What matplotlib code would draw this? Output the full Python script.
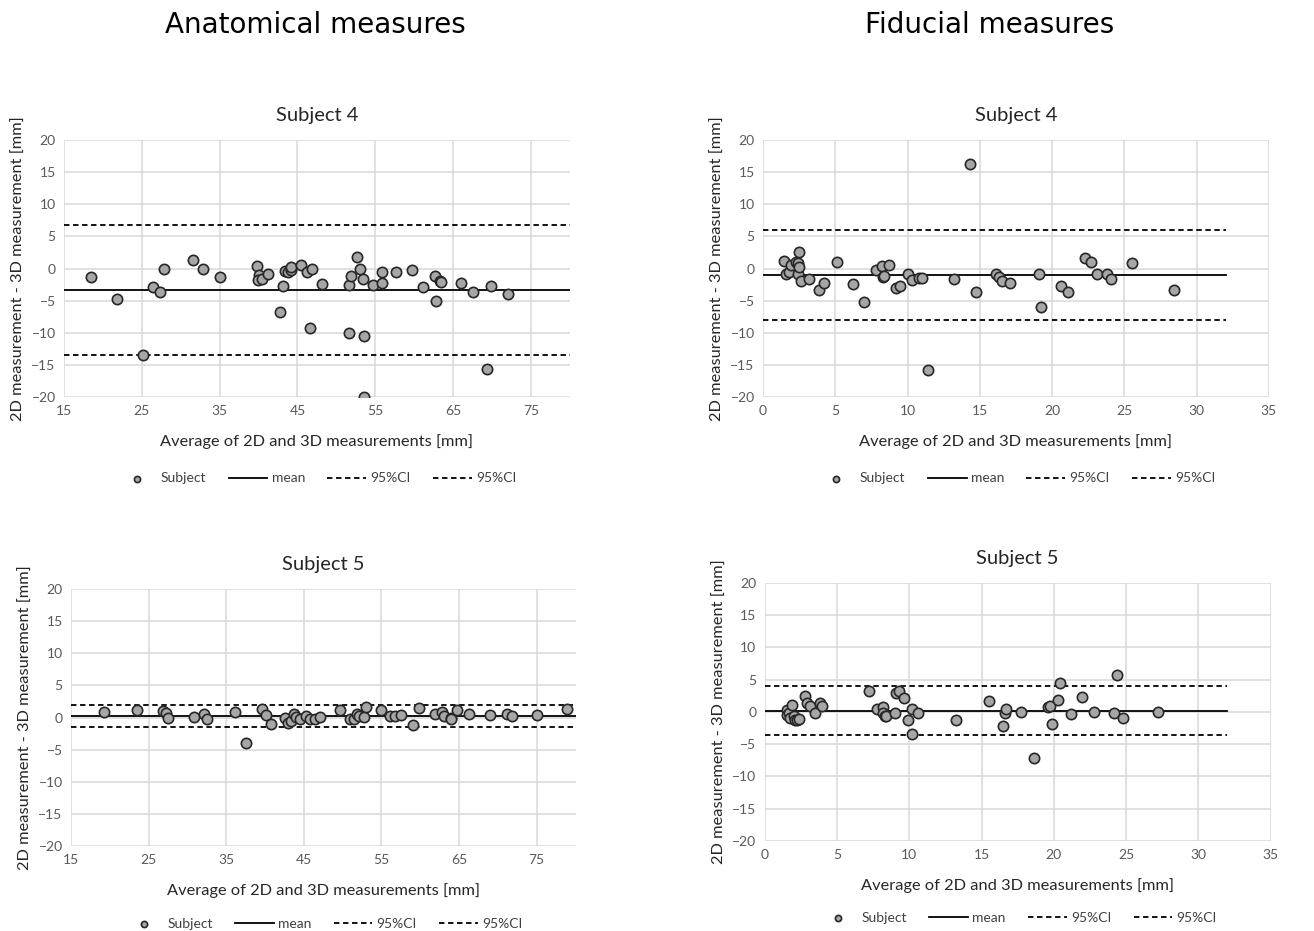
import matplotlib
matplotlib.use("Agg")
import matplotlib.pyplot as plt

plt.rcParams['font.family'] = ['Lato', 'DejaVu Sans']

# Anatomical, subject 4
anat4_x = [18.5, 21.8, 25.1, 26.4, 27.3, 27.8, 31.6, 32.8, 35.0, 39.8, 40.0, 39.9,
           40.5, 41.2, 42.8, 43.1, 43.4, 43.8, 44.2, 44.2, 45.4, 46.2, 46.6, 46.9,
           48.2, 51.6, 51.6, 51.9, 52.7, 53.0, 53.4, 53.5, 53.5, 54.7, 55.9, 55.9,
           57.6, 59.7, 61.1, 62.7, 62.8, 63.3, 63.4, 66.0, 67.6, 69.3, 69.9, 72.1]
anat4_y = [-1.3, -4.8, -13.5, -2.9, -3.6, 0.0, 1.4, 0.0, -1.3, 0.4, -1.0, -1.8,
           -1.6, -0.8, -6.8, -2.7, -0.4, -0.5, -0.2, 0.3, 0.6, -0.6, -9.3, -0.1,
           -2.4, -10.1, -2.5, -1.2, 1.8, -0.1, -1.6, -10.5, -20.0, -2.6, -0.6, -2.3,
           -0.6, -0.2, -2.9, -1.1, -5.1, -1.9, -2.1, -2.3, -3.7, -15.7, -2.7, -4.0]
anat4_stats = [-3.3, 6.7, -13.4]  # mean, upper, lower

# Fiducial, subject 4
fid4_x = [1.45, 1.6, 1.8, 1.9, 2.3, 2.4, 2.4, 2.5, 2.5, 2.6, 3.2, 3.9, 4.2, 5.1,
          6.2, 7.0, 7.8, 8.2, 8.3, 8.4, 8.7, 9.2, 9.5, 10.0, 10.3, 10.8, 11.0, 11.4,
          13.2, 14.3, 14.7, 16.1, 16.3, 16.5, 17.1, 19.1, 19.2, 20.6, 21.1, 22.3,
          22.7, 23.1, 23.8, 24.1, 25.5, 28.4]
fid4_y = [1.1, -0.8, -0.6, 0.6, 1.0, 0.9, -0.8, 2.5, 0.3, -1.9, -1.7, -3.3, -2.2, 1.0,
          -2.4, -5.2, -0.2, 0.4, -1.3, -1.2, 0.5, -3.0, -2.7, -0.8, -1.8, -1.5, -1.5, -15.8,
          -1.6, 16.3, -3.6, -0.9, -1.4, -1.9, -2.3, -0.9, -6.0, -2.7, -3.7, 1.6,
          1.0, -0.8, -0.8, -1.6, 0.8, -3.4]
fid4_stats = [-1.0, 6.0, -8.0]

# Anatomical, subject 5
anat5_x = [19.2, 23.5, 26.9, 27.3, 27.5, 30.9, 32.1, 32.5, 36.1, 37.6, 39.6, 40.1,
           40.8, 42.6, 43.0, 43.4, 43.7, 44.0, 44.5, 45.3, 45.8, 46.5, 47.1, 49.6,
           51.0, 51.5, 51.9, 52.1, 52.8, 53.0, 55.0, 56.1, 56.8, 57.5, 59.0, 59.8,
           61.9, 62.8, 63.0, 64.0, 64.0, 64.7, 66.3, 69.0, 71.2, 71.8, 75.1, 78.9]
anat5_y = [0.9, 1.2, 1.0, 0.7, -0.1, 0.1, 0.6, -0.2, 0.9, -4.0, 1.3, 0.4,
           -1.0, 0.0, -0.9, -0.5, 0.6, 0.1, -0.3, 0.2, -0.3, -0.3, 0.1, 1.2,
           -0.3, -0.3, 0.6, 0.2, 0.1, 1.7, 1.2, 0.2, 0.2, 0.4, -1.1, 1.5,
           0.6, 0.9, 0.3, -0.1, -0.3, 1.1, 0.5, 0.4, 0.6, 0.3, 0.4, 1.3]
anat5_stats = [0.3, 2.0, -1.4]

# Fiducial, subject 5
fid5_x = [1.54, 1.57, 1.7, 1.75, 1.9, 2.0, 2.1, 2.2, 2.35, 2.8, 2.9, 3.1, 3.5, 3.85,
          3.95, 7.2, 7.8, 8.2, 8.2, 8.3, 8.4, 9.0, 9.05, 9.3, 9.6, 9.9, 10.2, 10.2,
          10.6, 13.2, 15.5, 16.5, 16.6, 16.7, 17.7, 18.6, 19.6, 19.75, 19.9, 20.3,
          20.4, 21.2, 21.95, 22.8, 24.15, 24.4, 24.8, 27.2]
fid5_y = [0.3, -0.5, -0.2, -0.9, 1.1, -0.6, -1.2, -1.2, -1.1, 2.5, 1.4, 1.0, -0.1, 1.4,
          0.9, 3.2, 0.5, 0.7, -0.2, -0.6, -0.7, -0.2, 3.0, 3.2, 2.2, -1.2, 0.4, -3.4,
          -0.1, -1.3, 1.7, -2.2, -0.2, 0.5, 0.0, -7.2, 0.8, 0.9, -1.9, 1.9,
          4.5, -0.3, 2.4, 0.0, -0.1, 5.8, -1.0, 0.0]
fid5_stats = [0.2, 4.1, -3.6]

anat_ticks = [15, 25, 35, 45, 55, 65, 75]
fid_ticks = [0, 5, 10, 15, 20, 25, 30, 35]
y_ticks = [20, 15, 10, 5, 0, -5, -10, -15, -20]

fig = plt.figure(figsize=(13.14, 9.31), dpi=100)

panels = [
    ([0.0487, 0.5736, 0.385, 0.2760], anat4_x, anat4_y, anat4_stats, anat_ticks, (15, 80), (15, 80), -0.245),
    ([0.5807, 0.5736, 0.385, 0.2760], fid4_x, fid4_y, fid4_stats, fid_ticks, (0, 35), (0, 32), -0.245),
    ([0.0540, 0.0913, 0.384, 0.2760], anat5_x, anat5_y, anat5_stats, anat_ticks, (15, 80), (15, 80), -0.232),
    ([0.5820, 0.0967, 0.385, 0.2771], fid5_x, fid5_y, fid5_stats, fid_ticks, (0, 35), (0, 32), -0.226),
]
titles = ["Subject 4", "Subject 4", "Subject 5", "Subject 5"]

for (rect, xs, ys, stats, ticks, xlim, span, leg_y), title in zip(panels, titles):
    ax = fig.add_axes(rect)
    ax.set_xlim(*xlim)
    ax.set_ylim(-20, 20)
    ax.set_xticks(ticks)
    ax.set_yticks(y_ticks)
    ax.grid(True, color='#d9d9d9', linewidth=1.1)
    ax.set_axisbelow(True)
    for s in ax.spines.values():
        s.set_visible(False)
    ax.tick_params(length=0, labelsize=10, colors='#595959', pad=6)

    ax.scatter(xs, ys, s=55, color='#a6a6a6', edgecolor='#262626', linewidth=1.2,
               zorder=3, label='Subject')
    ax.plot(span, [stats[0]] * 2, color='black', lw=1.3, label='mean', zorder=2)
    ax.plot(span, [stats[1]] * 2, color='black', lw=1.3, ls=(0, (3, 2)), label='95%CI', zorder=2)
    ax.plot(span, [stats[2]] * 2, color='black', lw=1.3, ls=(0, (3, 2)), label='95%CI', zorder=2)

    ax.set_title(title, fontsize=14.5, color='#262626', pad=14)
    ax.set_xlabel("Average of 2D and 3D measurements [mm]", fontsize=11.8, color='#262626', labelpad=12)
    ax.set_ylabel("2D measurement - 3D measurement [mm]", fontsize=11.8, color='#262626', labelpad=4)
    ax.legend(loc='upper center', bbox_to_anchor=(0.5, leg_y), ncol=4, frameon=False,
              fontsize=10, labelcolor='#404040', handlelength=2.8, columnspacing=1.6,
              markerscale=0.6, handletextpad=0.3)

fig.text(315 / 1314, 1 - 25 / 931, "Anatomical measures", fontsize=20, family='DejaVu Sans',
         ha='center', va='center')
fig.text(990 / 1314, 1 - 25 / 931, "Fiducial measures", fontsize=20, family='DejaVu Sans',
         ha='center', va='center')

fig.savefig("out.png", dpi=100)
